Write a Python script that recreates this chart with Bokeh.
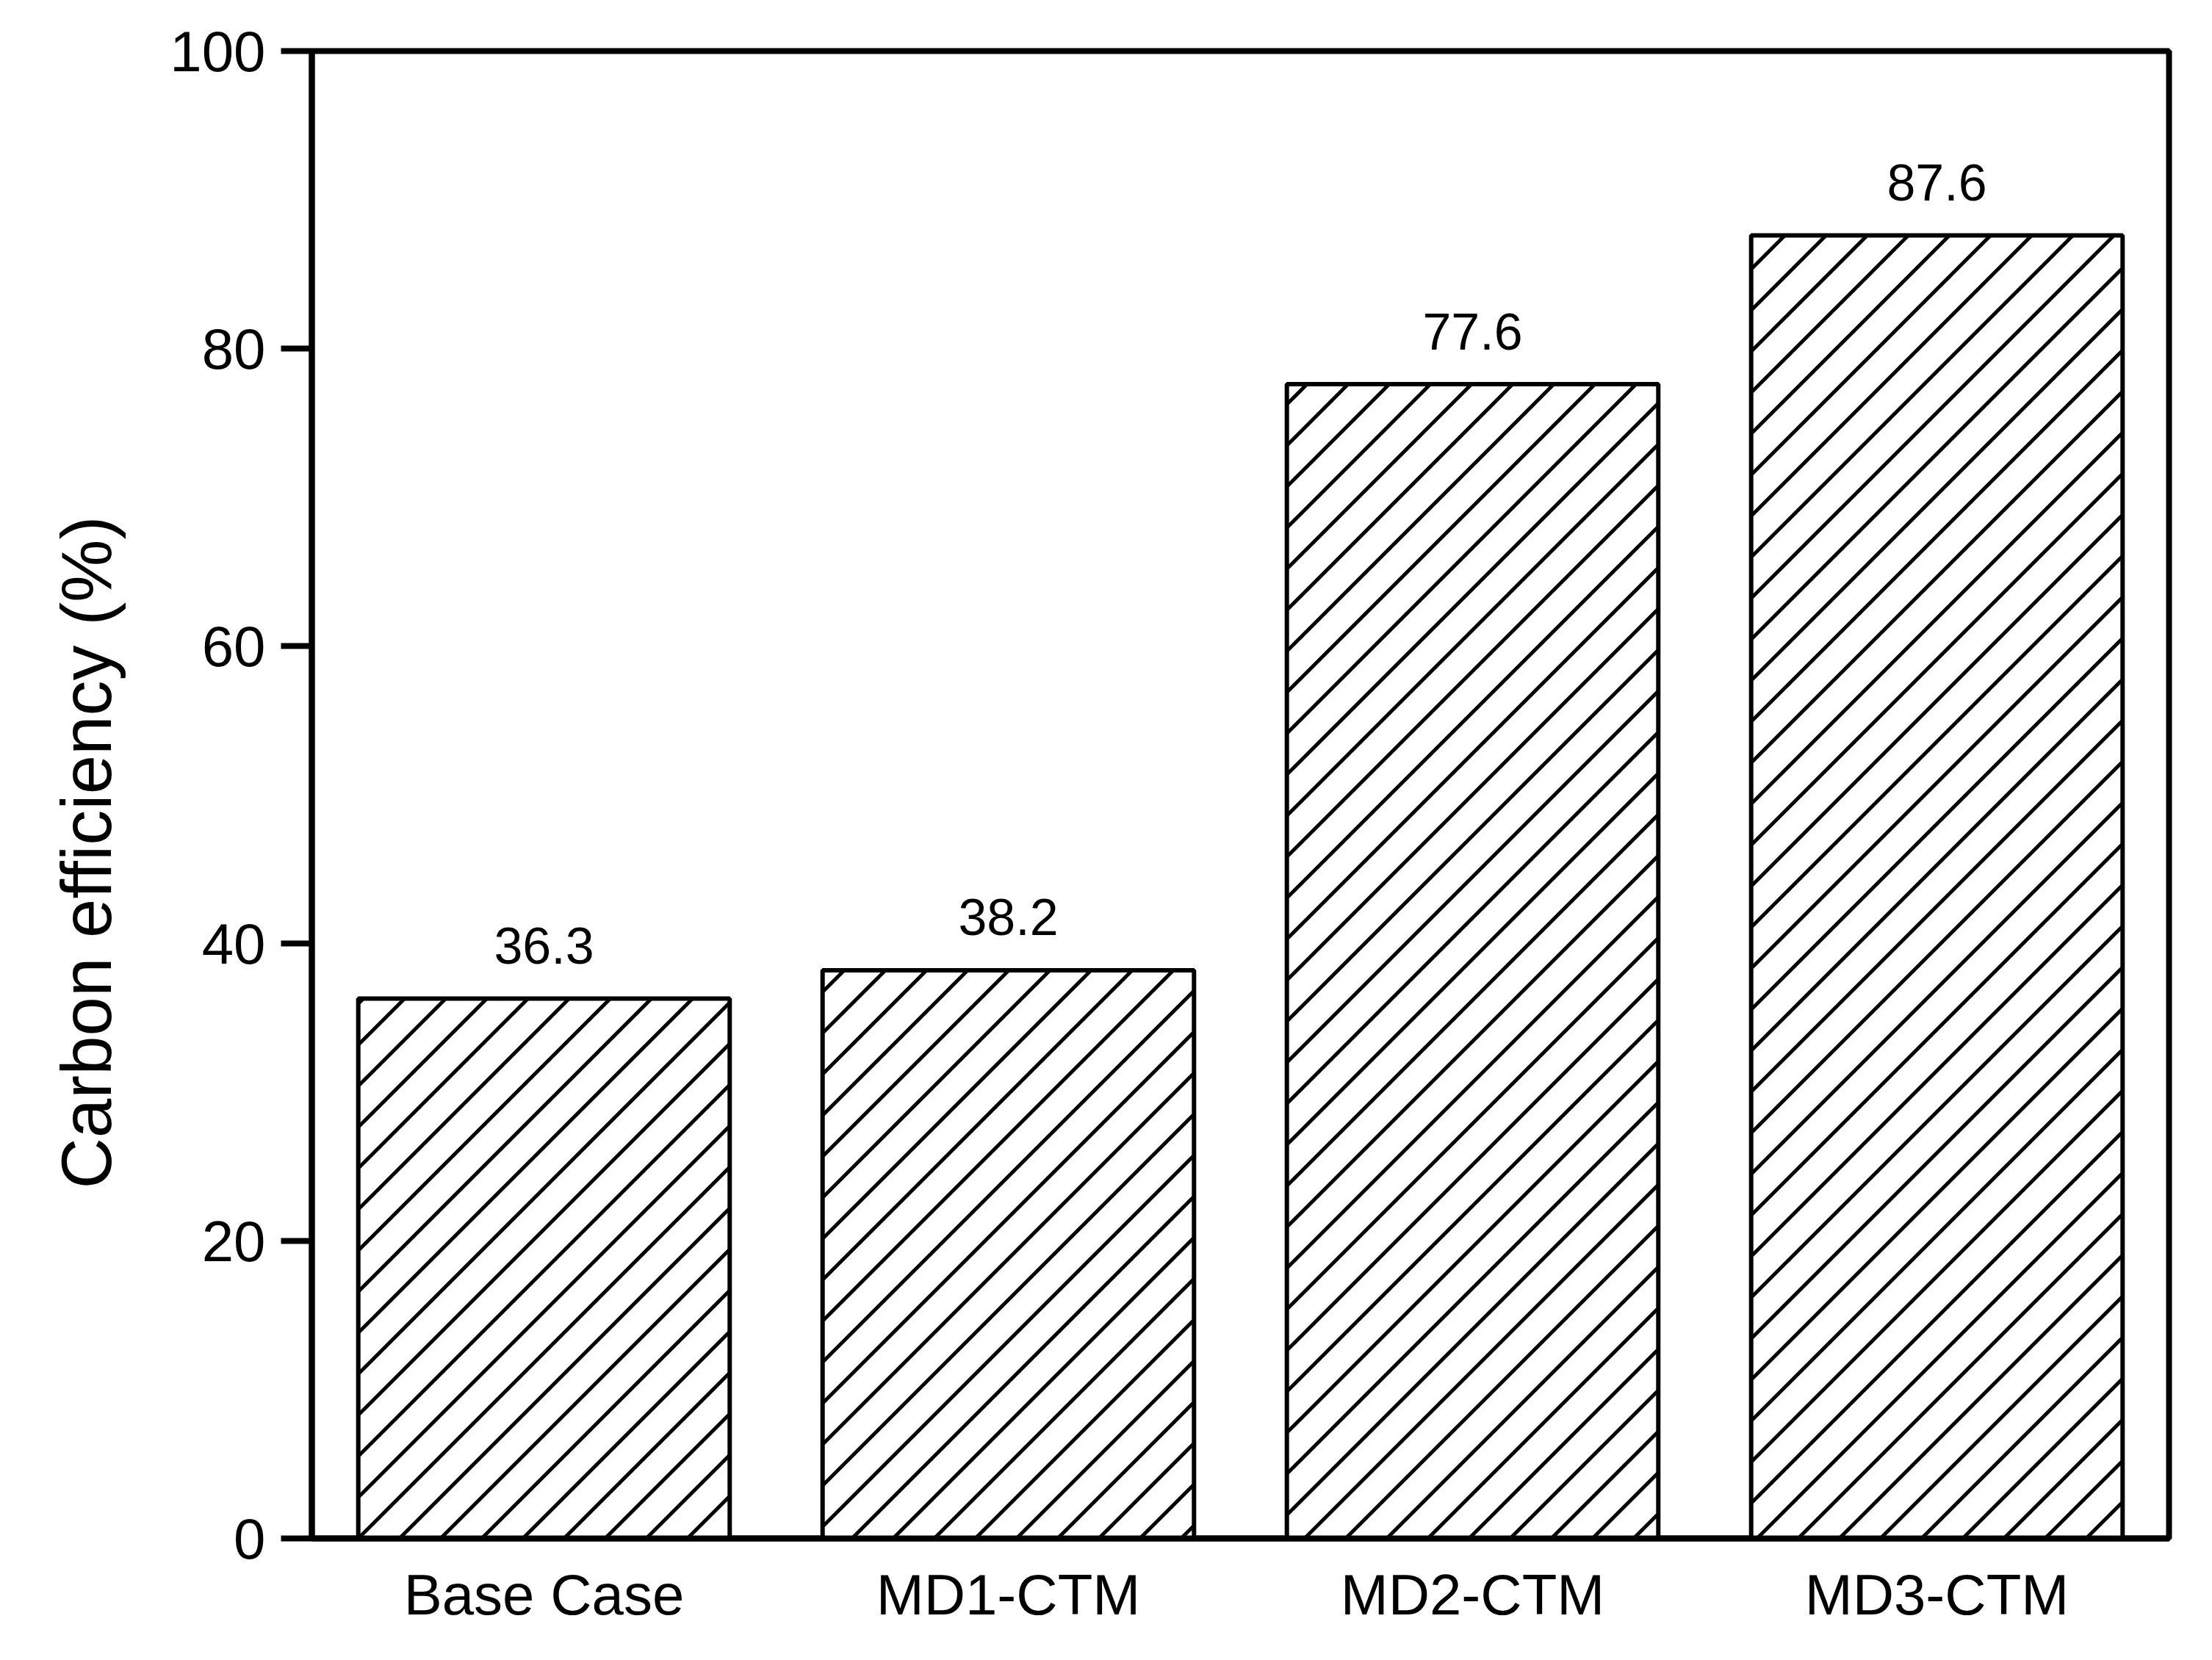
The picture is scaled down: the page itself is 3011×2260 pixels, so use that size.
import math
from bokeh.plotting import figure
from bokeh.models import ColumnDataSource, FactorRange, Range1d, FixedTicker, Title
from bokeh.core.properties import value
from bokeh.embed import file_html
from bokeh.resources import INLINE

categories = ["Base Case", "MD1-CTM", "MD2-CTM", "MD3-CTM"]
efficiency = [36.3, 38.2, 77.6, 87.6]
y_ticks = [0, 20, 40, 60, 80, 100]

FONT = "Liberation Sans"
FRAME_W, FRAME_H = 2528, 2025
Y_MAX = 100
BAR_W = 0.8
HATCH_SPACING = 56   # px, horizontal distance between "/" hatch lines

src = ColumnDataSource(dict(
    cat=categories,
    val=efficiency,
    lab=["{:.1f}".format(v) for v in efficiency],
))

p = figure(
    frame_width=FRAME_W, frame_height=FRAME_H,
    x_range=FactorRange(*categories, range_padding=0),
    y_range=Range1d(0, Y_MAX),
    output_backend="svg", toolbar_location=None,
    min_border_left=424, min_border_right=43,
    min_border_top=69, min_border_bottom=150,
)
p.background_fill_color = "white"
p.border_fill_color = "white"
p.outline_line_color = "black"
p.outline_line_width = 8
p.xgrid.visible = False
p.ygrid.visible = False

# bar fill
p.vbar(x="cat", top="val", width=BAR_W, source=src,
       fill_color="white", line_color=None)

# 45-degree "/" hatch lines inside each bar, derived from the bar geometry
px_x = FRAME_W / len(categories)   # px per category unit
px_y = FRAME_H / Y_MAX             # px per y unit
hx0, hy0, hx1, hy1 = [], [], [], []
d0 = (0.5 - BAR_W / 2) * px_x      # anchor: bottom-left corner of first bar
for i, v in enumerate(efficiency):
    XL = (i + 0.5 - BAR_W / 2) * px_x
    XR = (i + 0.5 + BAR_W / 2) * px_x
    YT = v * px_y
    n_lo = math.floor((XL - YT - d0) / HATCH_SPACING)
    n_hi = math.ceil((XR - d0) / HATCH_SPACING)
    for n in range(n_lo, n_hi + 1):
        d = d0 + n * HATCH_SPACING
        xs = max(XL, d)          # line: Y = X - d  (rising to the right)
        xe = min(XR, d + YT)
        if xe - xs > 0.5:
            hx0.append(xs / px_x); hy0.append((xs - d) / px_y)
            hx1.append(xe / px_x); hy1.append((xe - d) / px_y)

p.segment(x0=hx0, y0=hy0, x1=hx1, y1=hy1, line_color="black", line_width=5)

# bar outline
p.vbar(x="cat", top="val", width=BAR_W, source=src,
       fill_color=None, line_color="black", line_width=6)

p.text(x="cat", y="val", text="lab", source=src,
       text_align="center", text_baseline="alphabetic", y_offset=-72,
       text_font=value(FONT), text_font_size="70px", text_color="black")

# y axis (ticks and tick labels)
p.yaxis.ticker = FixedTicker(ticks=y_ticks)
p.yaxis.axis_line_width = 8
p.yaxis.axis_line_color = "black"
p.yaxis.major_tick_line_width = 8
p.yaxis.major_tick_line_color = "black"
p.yaxis.major_tick_out = 42
p.yaxis.major_tick_in = 0
p.yaxis.minor_tick_line_color = None
p.yaxis.major_label_standoff = 21
p.yaxis.major_label_text_font = FONT
p.yaxis.major_label_text_font_size = "78px"
p.yaxis.major_label_text_color = "black"

# y-axis title, starting ~476 px above the frame bottom as in the reference
ylab = Title(text="Carbon efficiency (%)", align="left", offset=476,
             vertical_align="bottom", standoff=116,
             text_font=FONT, text_font_size="96px", text_font_style="normal",
             text_color="black")
p.add_layout(ylab, "left")

# x axis
p.xaxis.axis_line_width = 8
p.xaxis.axis_line_color = "black"
p.xaxis.major_tick_out = 0
p.xaxis.major_tick_in = 0
p.xaxis.major_tick_line_color = None
p.xaxis.minor_tick_line_color = None
p.xaxis.major_label_standoff = 32
p.xaxis.major_label_text_font = FONT
p.xaxis.major_label_text_font_size = "78px"
p.xaxis.major_label_text_color = "black"

open("out.html", "w").write(file_html(p, INLINE))
